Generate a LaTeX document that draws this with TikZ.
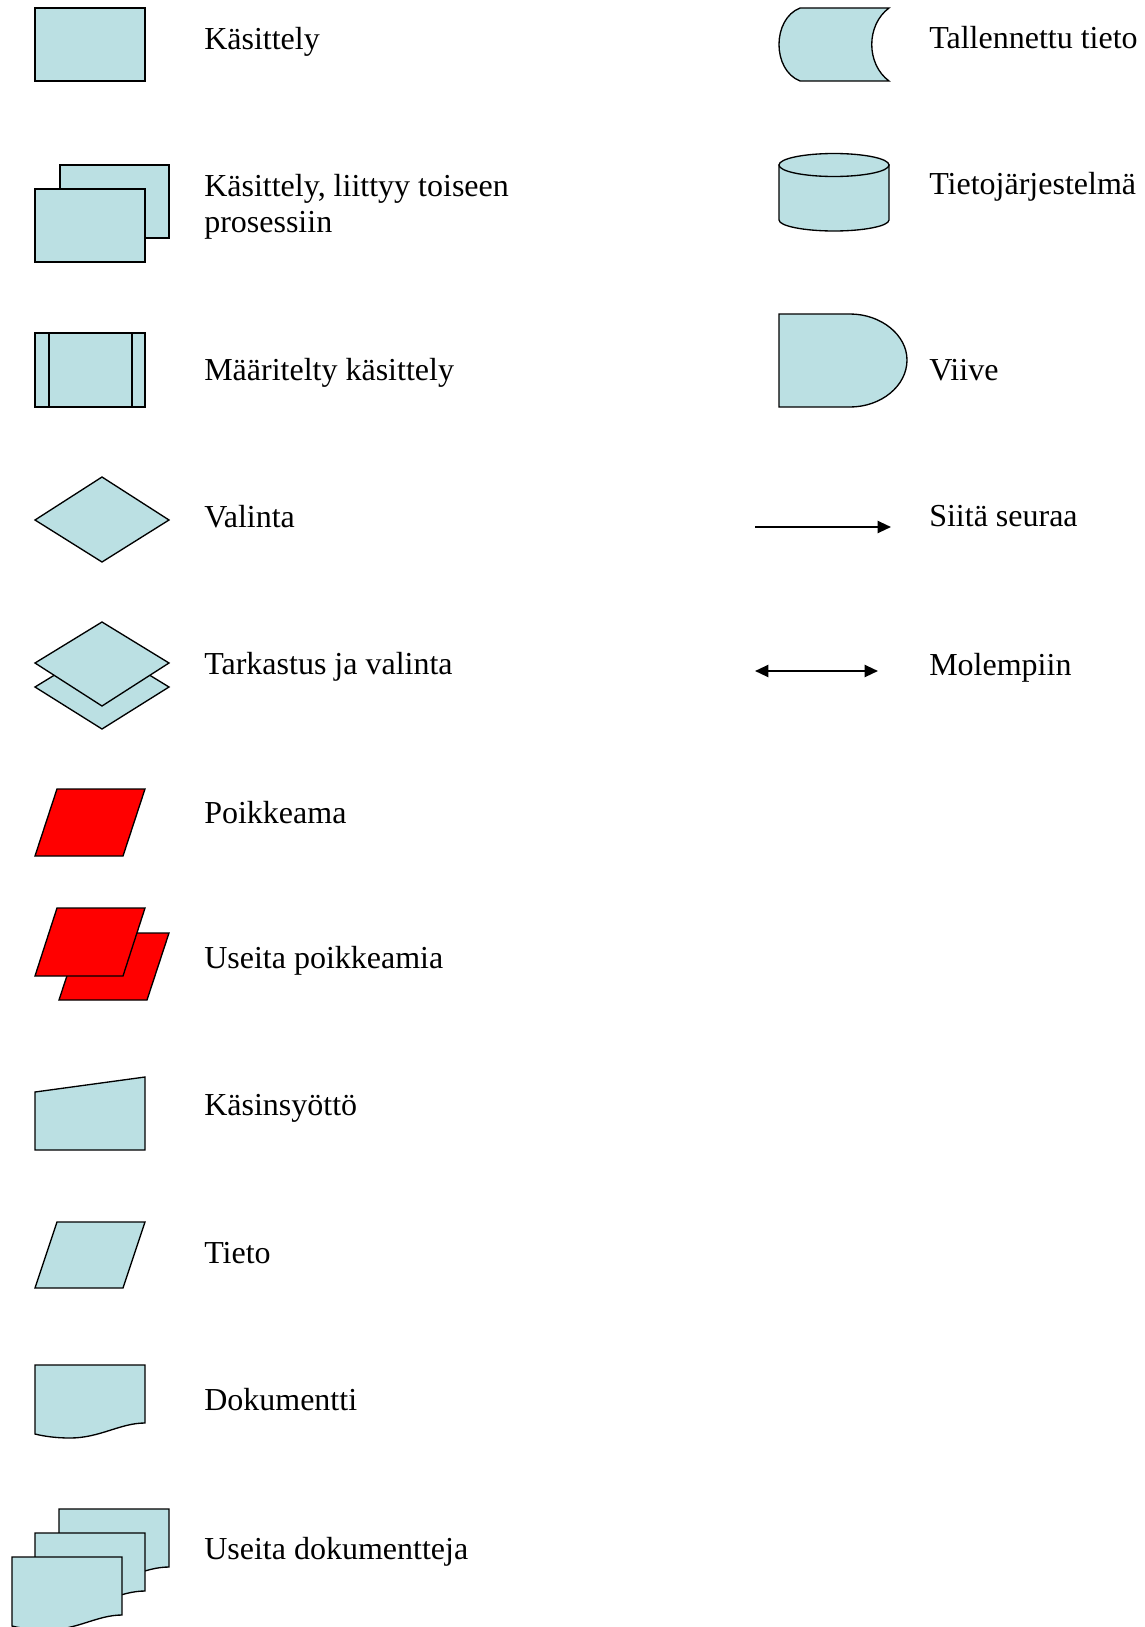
\documentclass[tikz,border=0pt]{standalone}
\usepackage{fontspec}
\setmainfont{Liberation Serif}
\usetikzlibrary{arrows.meta}
\definecolor{symfill}{RGB}{187,224,227}

\begin{document}
\begin{tikzpicture}[x=0.75pt,y=-0.75pt,font=\fontsize{24}{27}\selectfont,
    >={Triangle[length=10pt,width=9pt]}]
  \tikzstyle{sym}=[draw, fill=symfill, line width=1pt]
  \tikzstyle{redsym}=[sym, fill=red]
  \tikzstyle{txt}=[anchor=base west, inner sep=0pt]
  \tikzstyle{arr}=[line width=1.6pt]
  \useasboundingbox (0,0) rectangle (1145,1627);

  % left column
  \filldraw[sym] (35,8) rectangle (145,81);
  \filldraw[sym] (60,165) rectangle (169,238);
  \filldraw[sym] (35,189) rectangle (145,262);
  \filldraw[sym] (35,333) rectangle (145,407);
  \draw[line width=1pt] (49,333) -- (49,407) (132,333) -- (132,407);
  \filldraw[sym] (35,520) -- (102,477) -- (169,520) -- (102,562) -- cycle;
  \filldraw[sym] (35,687) -- (102,646) -- (169,687) -- (102,729) -- cycle;
  \filldraw[sym] (35,663) -- (102,622) -- (169,663) -- (102,706) -- cycle;
  \filldraw[redsym] (35,856) -- (57,789) -- (145,789) -- (123,856) -- cycle;
  \filldraw[redsym] (59,1000) -- (81,933) -- (169,933) -- (147,1000) -- cycle;
  \filldraw[redsym] (35,976) -- (57,908) -- (145,908) -- (123,976) -- cycle;
  \filldraw[sym] (35,1150) -- (35,1092) -- (145,1077) -- (145,1150) -- cycle;
  \filldraw[sym] (35,1288) -- (57,1222) -- (145,1222) -- (123,1288) -- cycle;
  \foreach \x/\y in {35/1365,59/1509,35/1533,12/1557}
    \filldraw[sym,shift={(\x,\y)}] (0,0) -- (110,0) -- (110,58)
      .. controls (85,58) and (65,73) .. (35,73)
      .. controls (20,73) and (8,71) .. (0,69) -- cycle;

  \foreach \y/\t [count=\i] in {50/Käsittely, 196/{Käsittely, liittyy toiseen},
      232/prosessiin, 380/Määritelty käsittely, 527/Valinta,
      674/Tarkastus ja valinta, 823/Poikkeama, 968/Useita poikkeamia,
      1115/Käsinsyöttö, 1263/Tieto, 1410/Dokumentti, 1559/Useita dokumentteja}
    \node[txt] (l\i) at (204,\y) {\t};

  % right column
  \filldraw[sym] (800,8) -- (889,8) .. controls (866,25) and (866,64) .. (889,81)
    -- (800,81) .. controls (772,70) and (772,19) .. (800,8) -- cycle;
  \filldraw[sym] (779,165) -- (779,220) .. controls (779,226) and (804,231) .. (834,231)
    .. controls (864,231) and (889,226) .. (889,220) -- (889,165) -- cycle;
  \filldraw[sym] (834,165) ellipse (55 and 11.5);
  \filldraw[sym] (779,314) -- (850,314) .. controls (881,314) and (907,335) .. (907,360)
    .. controls (907,386) and (881,407) .. (850,407) -- (779,407) -- cycle;
  \coordinate (a1) at (755,527);
  \coordinate (b1) at (891,527);
  \coordinate (a2) at (755,671);
  \coordinate (b2) at (878,671);
  \draw[arr,->] (a1) -- (b1);
  \draw[arr,<->] (a2) -- (b2);

  \foreach \y/\t [count=\i] in {49/Tallennettu tieto, 194/Tietojärjestelmä,
      380/Viive, 526/Siitä seuraa, 675/Molempiin}
    \node[txt] (r\i) at (929,\y) {\t};
\end{tikzpicture}
\end{document}
